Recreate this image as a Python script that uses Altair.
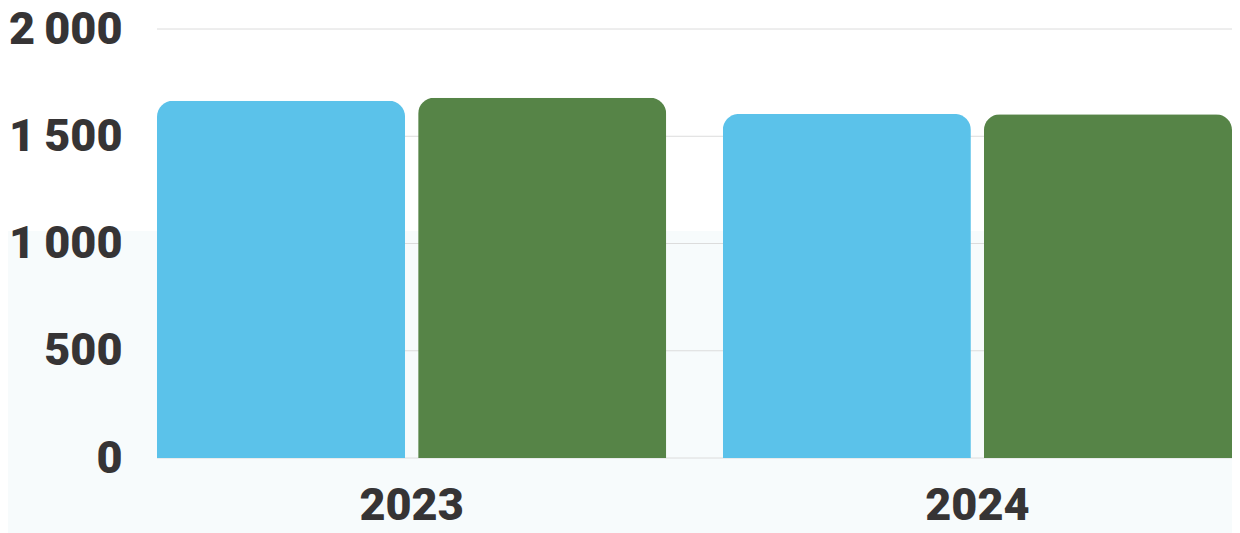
import altair as alt
import pandas as pd

years = ["2023", "2023", "2024", "2024"]
series = ["A", "B", "A", "B"]
values = [1666, 1680, 1604, 1602]
series_domain = ["A", "B"]
series_colors = ["#5bc2ea", "#568447"]
grid_ticks = [0, 500, 1000, 1500, 2000]

W, H = 1075, 429
FONT = "Roboto"
TXT = "#363435"
FS = 45

df = pd.DataFrame({"year": years, "series": series, "value": values})
grid_df = pd.DataFrame({"v": grid_ticks})

band = alt.Chart(pd.DataFrame({"k": [0]})).mark_rect(color="#f7fbfc").encode(
    x=alt.value(-149), x2=alt.value(W + 10), y=alt.value(202), y2=alt.value(H + 80)
)

grid = alt.Chart(grid_df).mark_rule(color="#dcdcdc", strokeWidth=1).encode(
    y=alt.Y("v:Q"), x=alt.value(0), x2=alt.value(W)
)

bars = alt.Chart(df).mark_bar(cornerRadiusTopLeft=16, cornerRadiusTopRight=16).encode(
    x=alt.X("year:N", scale=alt.Scale(paddingInner=0.1, paddingOuter=0),
            axis=alt.Axis(title=None, labelAngle=0, ticks=False, tickSize=0, domain=False,
                          labelFont=FONT, labelFontSize=FS, labelFontWeight=900,
                          labelColor=TXT, labelPadding=25, zindex=1)),
    xOffset=alt.XOffset("series:N", scale=alt.Scale(domain=series_domain, paddingInner=0.05, paddingOuter=0)),
    y=alt.Y("value:Q", scale=alt.Scale(domain=[0, 2000], nice=False),
            axis=alt.Axis(title=None, values=grid_ticks, grid=False, ticks=False, tickSize=0,
                          domain=False, labelFont=FONT, labelFontSize=FS, labelFontWeight=900,
                          labelColor=TXT, labelPadding=35, zindex=1,
                          labelExpr="replace(format(datum.value, ',d'), ',', '\u2009')")),
    color=alt.Color("series:N", scale=alt.Scale(domain=series_domain, range=series_colors), legend=None),
)

chart = alt.layer(band, grid, bars).properties(
    width=W, height=H,
    autosize=alt.AutoSizeParams(type="none"),
    padding={"left": 149, "top": 21, "right": 0, "bottom": 75},
    background="white",
).configure_view(stroke=None)

chart.save("out.html", embed_options={"renderer": "svg", "actions": False})
